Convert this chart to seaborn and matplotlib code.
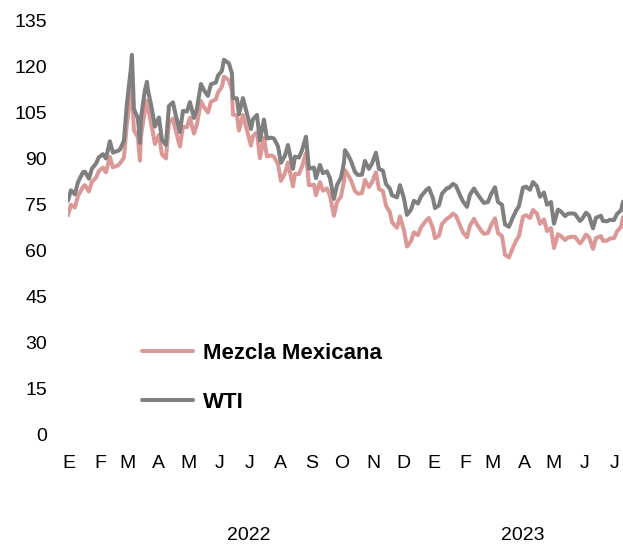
import pandas as pd
import matplotlib
matplotlib.use('Agg')
import matplotlib.pyplot as plt
import matplotlib.transforms as mtransforms
import seaborn as sns

# Fechas (aprox. dos por semana) y precios del petróleo, dólares por barril
fechas = [
    '2022-01-03', '2022-01-06', '2022-01-10', '2022-01-13', '2022-01-18', '2022-01-20', '2022-01-24', '2022-01-27',
    '2022-01-31', '2022-02-03', '2022-02-07', '2022-02-10', '2022-02-14', '2022-02-17', '2022-02-22', '2022-02-24',
    '2022-02-28', '2022-03-03', '2022-03-07', '2022-03-08', '2022-03-10', '2022-03-14', '2022-03-16', '2022-03-17',
    '2022-03-21', '2022-03-23', '2022-03-24', '2022-03-28', '2022-03-31', '2022-04-04', '2022-04-07', '2022-04-11',
    '2022-04-14', '2022-04-18', '2022-04-21', '2022-04-25', '2022-04-28', '2022-05-02', '2022-05-05', '2022-05-09',
    '2022-05-12', '2022-05-16', '2022-05-19', '2022-05-23', '2022-05-26', '2022-05-31', '2022-06-02', '2022-06-06',
    '2022-06-08', '2022-06-13', '2022-06-16', '2022-06-17', '2022-06-21', '2022-06-23', '2022-06-27', '2022-06-30',
    '2022-07-05', '2022-07-07', '2022-07-11', '2022-07-14', '2022-07-18', '2022-07-21', '2022-07-25', '2022-07-28',
    '2022-08-01', '2022-08-04', '2022-08-08', '2022-08-11', '2022-08-16', '2022-08-18', '2022-08-22', '2022-08-25',
    '2022-08-29', '2022-09-01', '2022-09-06', '2022-09-08', '2022-09-12', '2022-09-15', '2022-09-19', '2022-09-22',
    '2022-09-26', '2022-09-29', '2022-10-03', '2022-10-06', '2022-10-07', '2022-10-10', '2022-10-13', '2022-10-17',
    '2022-10-20', '2022-10-24', '2022-10-27', '2022-10-31', '2022-11-03', '2022-11-07', '2022-11-10', '2022-11-14',
    '2022-11-17', '2022-11-21', '2022-11-23', '2022-11-28', '2022-12-01', '2022-12-05', '2022-12-08', '2022-12-12',
    '2022-12-15', '2022-12-19', '2022-12-22', '2022-12-27', '2022-12-30',
    '2023-01-03', '2023-01-05', '2023-01-09', '2023-01-12', '2023-01-17', '2023-01-19', '2023-01-23', '2023-01-26',
    '2023-01-30', '2023-02-02', '2023-02-06', '2023-02-09', '2023-02-13', '2023-02-16', '2023-02-21', '2023-02-23',
    '2023-02-27', '2023-03-02', '2023-03-06', '2023-03-09', '2023-03-13', '2023-03-16', '2023-03-20', '2023-03-23',
    '2023-03-27', '2023-03-30', '2023-04-03', '2023-04-06', '2023-04-10', '2023-04-13', '2023-04-17', '2023-04-20',
    '2023-04-24', '2023-04-27', '2023-05-01', '2023-05-04', '2023-05-08', '2023-05-11', '2023-05-15', '2023-05-18',
    '2023-05-22', '2023-05-25', '2023-05-30', '2023-06-01', '2023-06-05', '2023-06-08', '2023-06-12', '2023-06-15',
    '2023-06-20', '2023-06-22', '2023-06-26', '2023-06-29', '2023-07-03', '2023-07-06', '2023-07-10', '2023-07-12',
]

wti = [
    76.1, 79.5, 78.2, 82.1, 85.4, 85.6, 83.3, 86.6,
    88.2, 90.3, 91.3, 89.9, 95.5, 91.8, 92.4, 92.8,
    95.7, 107.7, 119.4, 123.7, 106.0, 103.0, 95.0, 103.0,
    112.1, 114.9, 112.3, 106.0, 100.3, 103.3, 96.0, 94.3,
    107.0, 108.2, 103.8, 98.5, 105.4, 105.2, 108.3, 103.1,
    106.1, 114.2, 112.2, 110.3, 114.1, 114.7, 116.9, 118.5,
    122.1, 120.9, 117.6, 109.6, 109.5, 104.3, 109.6, 105.8,
    99.5, 102.7, 104.1, 95.8, 102.6, 96.4, 96.7, 96.4,
    93.9, 88.5, 90.8, 94.3, 86.5, 90.5, 90.2, 92.5,
    97.0, 86.6, 86.9, 83.5, 87.8, 85.1, 85.7, 83.5,
    76.7, 81.2, 83.6, 88.5, 92.6, 91.1, 89.1, 85.5,
    84.5, 84.6, 89.1, 86.5, 88.2, 91.8, 86.5, 85.9,
    81.6, 80.0, 77.9, 77.2, 81.2, 76.9, 71.5, 73.2,
    76.1, 75.2, 77.5, 79.5, 80.3,
    76.9, 73.7, 74.6, 78.4, 80.2, 80.3, 81.6, 81.0,
    77.9, 75.9, 74.1, 78.1, 80.1, 78.5, 76.2, 75.4,
    75.7, 78.2, 80.5, 75.7, 74.8, 68.4, 67.6, 70.0,
    72.8, 74.4, 80.4, 80.7, 79.7, 82.2, 80.8, 77.4,
    78.8, 74.8, 75.7, 68.6, 73.2, 72.6, 71.1, 71.9,
    72.0, 71.8, 69.5, 70.1, 72.2, 71.3, 67.1, 70.6,
    71.2, 69.5, 69.4, 69.9, 69.8, 71.8, 73.0, 75.8,
]

mezcla = [
    71.3, 74.8, 73.9, 77.6, 80.6, 81.2, 79.1, 82.3,
    83.6, 85.8, 86.9, 85.4, 90.4, 87.0, 87.6, 88.3,
    90.1, 101.2, 111.0, 113.8, 99.1, 96.8, 89.2, 97.1,
    105.6, 108.8, 106.4, 100.1, 94.6, 97.6, 91.2, 89.9,
    101.5, 102.9, 98.7, 93.8, 100.2, 100.1, 103.2, 98.0,
    101.0, 108.6, 106.7, 104.9, 108.4, 109.2, 111.4, 113.3,
    116.6, 115.4, 112.1, 104.2, 104.0, 99.0, 104.1, 100.3,
    94.1, 97.2, 98.4, 90.0, 96.7, 90.6, 90.9, 90.5,
    88.1, 82.6, 85.0, 88.6, 80.8, 84.9, 84.8, 87.2,
    91.6, 81.2, 81.3, 77.9, 82.2, 79.4, 80.1, 77.8,
    71.2, 75.6, 77.5, 82.3, 86.1, 84.6, 82.8, 79.3,
    78.4, 78.6, 82.9, 80.6, 82.1, 85.4, 80.0, 79.2,
    74.6, 72.3, 69.1, 67.3, 71.0, 66.5, 61.2, 62.9,
    65.8, 64.9, 67.4, 69.6, 70.5,
    67.1, 63.9, 64.7, 68.5, 70.3, 70.6, 71.9, 71.2,
    68.1, 65.8, 64.2, 68.0, 70.2, 68.4, 66.0, 65.3,
    65.6, 68.1, 70.4, 65.6, 64.6, 58.5, 57.6, 60.1,
    63.0, 64.6, 70.9, 71.4, 70.5, 73.1, 71.9, 68.6,
    70.0, 66.2, 67.2, 60.7, 65.2, 64.6, 63.3, 64.1,
    64.4, 64.3, 62.2, 62.9, 65.1, 64.3, 60.4, 63.9,
    64.6, 63.0, 63.1, 63.8, 63.9, 66.1, 67.6, 70.7,
]

meses = ['E', 'F', 'M', 'A', 'M', 'J', 'J', 'A', 'S', 'O', 'N', 'D',
         'E', 'F', 'M', 'A', 'M', 'J', 'J']
anios = ['2022', '2023']

fechas = pd.to_datetime(fechas)
df = pd.concat([
    pd.DataFrame({'fecha': fechas, 'precio': mezcla, 'serie': 'Mezcla Mexicana'}),
    pd.DataFrame({'fecha': fechas, 'precio': wti, 'serie': 'WTI'}),
])

sns.set_style('white')
plt.rcParams['font.family'] = ['Liberation Sans', 'DejaVu Sans']
plt.rcParams['text.color'] = 'black'

fig = plt.figure(figsize=(6.23, 5.46), dpi=100)
ax = fig.add_axes([0.109, 0.205, 0.891, 0.758])

sns.lineplot(data=df, x='fecha', y='precio', hue='serie',
             palette={'Mezcla Mexicana': '#dc9896', 'WTI': '#7f7f7f'},
             linewidth=2.9, ax=ax)

ax.set_xlim(fechas[0], fechas[-1])
ax.set_ylim(0, 135)
ax.set_yticks(range(0, 136, 15))
ticks = pd.date_range('2022-01-01', '2023-07-01', freq='MS') + pd.Timedelta(days=3)
ax.set_xticks(ticks)
ax.set_xticklabels(meses)
ax.tick_params(axis='both', length=0, labelsize=14, colors='black')
ax.tick_params(axis='y', pad=15)
ax.tick_params(axis='x', pad=15)
ax.set_xlabel('')
ax.set_ylabel('')
sns.despine(ax=ax, left=True, bottom=True)

# años debajo de los meses
trans = mtransforms.blended_transform_factory(ax.transData, fig.transFigure)
for fecha_txt, anio in zip(['2022-07-03', '2023-04-03'], anios):
    ax.text(pd.Timestamp(fecha_txt), 0.02, anio, transform=trans,
            ha='center', va='center', fontsize=14, color='black')

leg = ax.legend(loc='upper left', bbox_to_anchor=(0.098, 0.269), frameon=False,
                handlelength=2.3, handletextpad=0.45, labelspacing=1.27,
                prop={'weight': 'bold', 'size': 16})
for line in leg.get_lines():
    line.set_linewidth(2.9)
for txt in leg.get_texts():
    txt.set_color('black')

fig.savefig('out.png', dpi=100)
